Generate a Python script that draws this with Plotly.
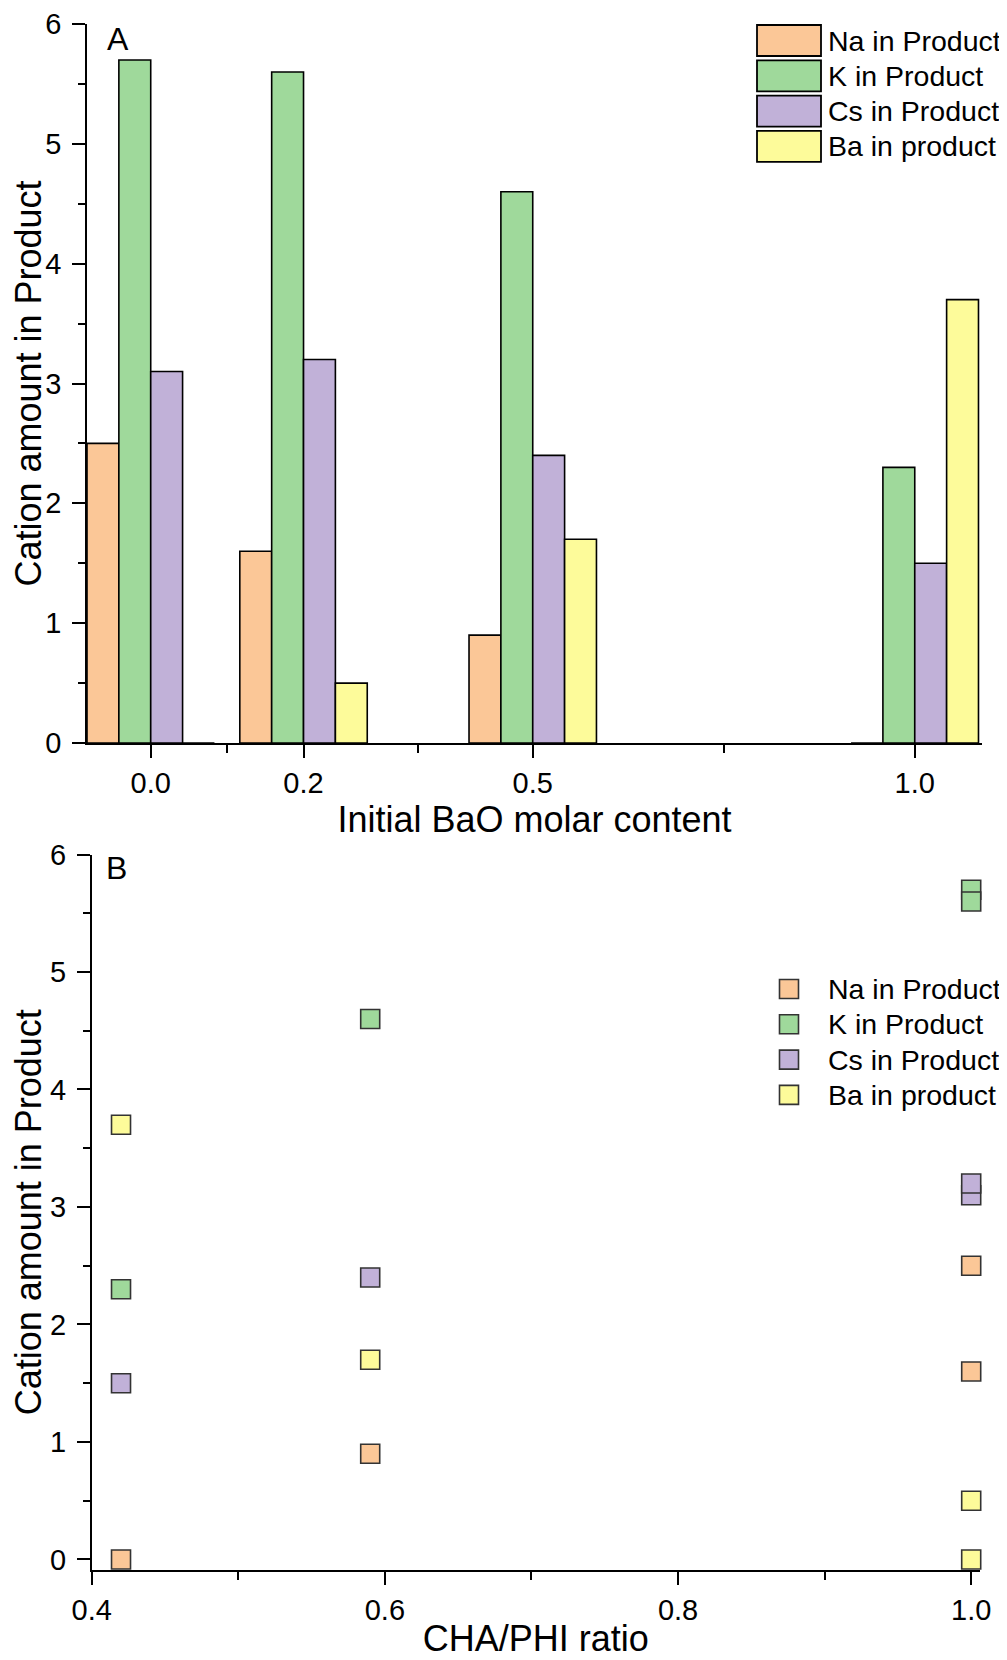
import plotly.graph_objects as go

# ---- data ----
bao_content = [0.0, 0.2, 0.5, 1.0]          # panel A x values
cha_phi_ratio = [1.0, 1.0, 0.59, 0.42]      # panel B x values (same samples)
series_names = ["Na in Product", "K in Product", "Cs in Product", "Ba in product"]
na_vals = [2.5, 1.6, 0.9, 0.0]
k_vals = [5.7, 5.6, 4.6, 2.3]
cs_vals = [3.1, 3.2, 2.4, 1.5]
ba_vals = [0.0, 0.5, 1.7, 3.7]
top_xticks = [0.0, 0.2, 0.5, 1.0]
top_xticktext = ["0.0", "0.2", "0.5", "1.0"]
top_xminor = [0.1, 0.35, 0.75]
bot_xticks = [0.4, 0.6, 0.8, 1.0]
bot_xticktext = ["0.4", "0.6", "0.8", "1.0"]

all_vals = [na_vals, k_vals, cs_vals, ba_vals]
colors = ["#FBC797", "#9FD99B", "#C1B1D8", "#FDFB9A"]

FONT = "Liberation Sans, Arial, sans-serif"
W = 1007
H = 1660
# the page body adds an 8 px offset; layout positions compensate for it
OX = 8
OY = 8


def px(v):
    return (v - OX) / W


def py(v):
    return 1 - (v - OY) / H


bar_w = 0.0417

fig = go.Figure()

for i, (name, vals, col) in enumerate(zip(series_names, all_vals, colors)):
    fig.add_trace(go.Bar(
        x=bao_content, y=vals, name=name, width=bar_w, offset=-2 * bar_w + i * bar_w,
        marker=dict(color=col, line=dict(color="black", width=1.6)),
        xaxis="x", yaxis="y", showlegend=False,
    ))

for i, (name, vals, col) in enumerate(zip(series_names, all_vals, colors)):
    fig.add_trace(go.Scatter(
        x=cha_phi_ratio, y=vals, name=name, mode="markers",
        marker=dict(symbol="square", size=19, color=col, line=dict(color="#333333", width=1.6)),
        xaxis="x2", yaxis="y2", showlegend=False, cliponaxis=False,
    ))

axis_common = dict(
    showline=True, linecolor="black", linewidth=1.6, showgrid=False, zeroline=False,
    ticks="outside", tickcolor="black", tickwidth=1.6, ticklen=13,
    tickfont=dict(family=FONT, size=29, color="black"),
    mirror=False, automargin=False,
)

fig.update_layout(
    width=W, height=H,
    margin=dict(l=0, r=0, t=0, b=0),
    paper_bgcolor="white", plot_bgcolor="white",
    font=dict(family=FONT, color="black"),
    barmode="overlay",
    showlegend=False,
    xaxis=dict(
        domain=[px(87), px(982)], range=[-0.0834, 1.088], anchor="y",
        tickmode="array", tickvals=top_xticks, ticktext=top_xticktext,
        minor=dict(tickmode="array", tickvals=top_xminor, ticks="outside", ticklen=8,
                   tickcolor="black", tickwidth=1.6),
        title=dict(text="Initial BaO molar content", font=dict(family=FONT, size=36), standoff=0),
        ticklabelstandoff=0,
        **axis_common,
    ),
    yaxis=dict(
        domain=[py(743), py(24)], range=[0, 6], anchor="x",
        tickmode="array", tickvals=[0, 1, 2, 3, 4, 5, 6],
        minor=dict(dtick=0.5, ticks="outside", ticklen=7, tickcolor="black", tickwidth=1.6),
        title=dict(text="Cation amount in Product", font=dict(family=FONT, size=36), standoff=0),
        ticklabelstandoff=5,
        **axis_common,
    ),
    xaxis2=dict(
        domain=[px(91.7), px(980)], range=[0.4, 1.006], anchor="y2",
        tickmode="array", tickvals=bot_xticks, ticktext=bot_xticktext,
        minor=dict(dtick=0.1, tick0=0.4, ticks="outside", ticklen=8, tickcolor="black", tickwidth=1.6),
        title=dict(text="CHA/PHI ratio", font=dict(family=FONT, size=36), standoff=1),
        ticklabelstandoff=0,
        **axis_common,
    ),
    yaxis2=dict(
        domain=[py(1570), py(854.5)], range=[-0.09, 6], anchor="x2",
        tickmode="array", tickvals=[0, 1, 2, 3, 4, 5, 6],
        minor=dict(dtick=0.5, tick0=0, ticks="outside", ticklen=7, tickcolor="black", tickwidth=1.6),
        title=dict(text="Cation amount in Product", font=dict(family=FONT, size=36), standoff=0),
        ticklabelstandoff=5,
        **axis_common,
    ),
)

shapes = []
annotations = []
pitch = 35.3

# panel A legend: large rectangular swatches
for i, (name, col) in enumerate(zip(series_names, colors)):
    top = 25 + i * pitch
    bot = top + 31
    shapes.append(dict(type="rect", xref="paper", yref="paper",
                       x0=px(757), x1=px(821), y0=py(bot), y1=py(top),
                       fillcolor=col, line=dict(color="black", width=1.8)))
    annotations.append(dict(xref="paper", yref="paper", x=px(826), y=py(top + 15.5),
                            xanchor="left", yanchor="middle", showarrow=False, text=name,
                            font=dict(family=FONT, size=28.5, color="black")))

# panel B legend: square marker swatches
for i, (name, col) in enumerate(zip(series_names, colors)):
    cy = 989 + i * pitch
    shapes.append(dict(type="rect", xref="paper", yref="paper",
                       x0=px(779.5), x1=px(798.5), y0=py(cy + 9.5), y1=py(cy - 9.5),
                       fillcolor=col, line=dict(color="#333333", width=1.6)))
    annotations.append(dict(xref="paper", yref="paper", x=px(826), y=py(cy),
                            xanchor="left", yanchor="middle", showarrow=False, text=name,
                            font=dict(family=FONT, size=28.5, color="black")))

annotations.append(dict(xref="paper", yref="paper", x=px(117.5), y=py(39), text="A",
                        showarrow=False, xanchor="center", yanchor="middle",
                        font=dict(family=FONT, size=32, color="black")))
annotations.append(dict(xref="paper", yref="paper", x=px(116.5), y=py(868), text="B",
                        showarrow=False, xanchor="center", yanchor="middle",
                        font=dict(family=FONT, size=32, color="black")))

fig.update_layout(shapes=shapes, annotations=annotations)

fig.write_html("out.html")
